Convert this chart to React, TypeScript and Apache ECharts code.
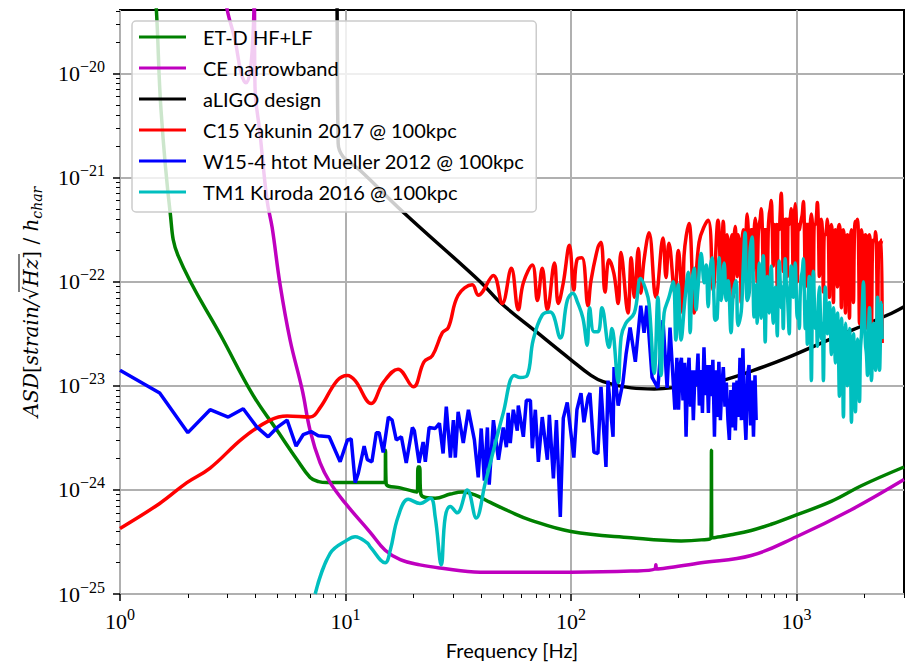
import React, { useEffect, useRef } from "react";
import * as echarts from "echarts";

// every trace is [frequency in Hz, log10(ASD)]; y is kept as the exponent because
// echarts rounds log ticks to 10 decimals, which would turn 1e-25 into 0
const etdTrace = [
  [1.4, -19.0], [1.45, -19.39], [1.52, -20.35], [1.67, -21.34], [1.81, -21.75], [2.87, -22.56], [3.89, -23.09],
  [4.98, -23.43], [6.1, -23.71], [6.97, -23.88], [7.6, -23.92], [8.3, -23.93], [10, -23.93], [13.5, -23.93],
  [15, -23.93], [15.05, -23.62], [15.15, -23.94], [17.5, -23.98], [20.8, -24.02], [21, -23.78], [21.3, -23.78],
  [21.6, -24.04], [25, -24.08], [29.2, -24.04], [33, -24.02], [37.7, -24.05], [43.9, -24.12], [53.8, -24.21],
  [66.1, -24.29], [100, -24.4], [185, -24.46], [308, -24.49], [378, -24.48], [418, -24.46], [420, -23.62],
  [421, -24.46], [513, -24.43], [630, -24.39], [773, -24.33], [1000, -24.24], [1427, -24.11], [1940, -23.96],
  [3000, -23.78],
];

const ceTrace = [
  [2.93, -19.2], [2.99, -19.39], [3.24, -19.68], [3.44, -19.99], [3.62, -20.09], [3.78, -19.97], [3.89, -19.63],
  [3.94, -19.3], [3.97, -20.13], [4.18, -20.58], [4.49, -21.22], [4.73, -21.48], [5.13, -22.03], [5.68, -22.56],
  [6.43, -23.04], [6.97, -23.43], [7.72, -23.74], [8.55, -23.93], [10, -24.13], [12.9, -24.41], [15, -24.58],
  [17.5, -24.67], [21.4, -24.72], [26.3, -24.75], [39.6, -24.79], [100, -24.79], [185, -24.78], [236, -24.76],
  [238, -24.72], [240, -24.76], [378, -24.7], [630, -24.63], [1000, -24.45], [1751, -24.19], [3000, -23.9],
];

const aligoTrace = [
  [9.15, -19.0], [9.18, -19.39], [9.28, -20.67], [9.77, -20.8], [11.6, -20.93], [18, -21.33], [39.6, -22.0],
  [48.6, -22.2], [71, -22.49], [100, -22.75], [122.7, -22.9], [139, -22.96], [185, -23.02], [234, -23.03],
  [278, -23.02], [464, -22.95], [649, -22.85], [913, -22.73], [1288, -22.59], [2538, -22.32], [3000, -22.24],
];

const yakuninTrace = [
  [1, -24.37], [1.5, -24.13], [1.98, -23.93], [2.51, -23.79], [3.52, -23.5], [4.63, -23.33], [5.51, -23.29],
  [6.97, -23.3], [7.72, -23.21], [9.18, -22.95], [10.2, -22.9], [11.04, -22.95], [13, -23.17], [14.7, -22.97],
  [17.1, -22.84], [20, -23.01], [22.3, -22.77], [24.3, -22.71], [26.9, -22.49], [28.6, -22.44], [31.6, -22.13],
  [36.5, -22.03], [38.8, -22.13], [45.3, -21.94], [49.6, -22.21], [54.4, -21.87], [58.4, -22.27], [61.5, -22.01],
  [67.4, -21.84], [71, -22.18], [74.6, -21.87], [78.6, -22.27], [84.5, -21.82], [87.9, -22.21], [92.5, -22.01],
  [98.4, -21.65], [103, -22.08], [106.3, -21.79], [111.9, -21.77], [119, -22.23], [122.7, -21.99], [131.7, -21.67],
  [135.9, -21.62], [141.6, -22.1], [147.5, -21.79], [155, -21.92], [162, -22.21], [166.6, -21.72], [179, -22.3],
  [185, -21.77], [191, -22.15], [199, -21.68], [204, -22.11], [211, -21.79], [222, -21.53], [238, -22.15],
  [256, -21.58], [264, -21.96], [272, -21.63], [289, -22.11], [299, -21.7], [314, -22.3], [317, -21.77],
  [334, -21.44], [352, -22.3], [370, -21.62], [406, -21.41], [427, -22.08], [449, -21.41],
  [464, -22.05], [469, -21.6], [474, -21.42], [478, -21.6], [483, -22.0], [488, -21.7], [493, -21.55], [498, -21.65],
  [503, -22.1], [508, -21.7], [513, -21.6], [518, -21.55], [524, -22.15], [529, -21.6], [535, -21.47], [540, -21.6],
  [546, -21.95], [551, -21.55], [557, -21.6], [563, -21.65], [569, -22.2], [575, -21.6], [581, -21.5], [587, -21.55],
  [593, -21.9], [599, -21.5], [605, -21.35], [611, -21.5], [618, -22.1], [624, -21.6], [630, -21.5], [636, -21.5],
  [643, -21.9], [650, -21.5], [657, -21.39], [663, -21.5], [670, -22.0], [677, -21.55], [684, -21.45], [691, -21.4],
  [698, -21.3], [705, -21.45], [713, -21.9], [720, -21.5], [727, -21.5], [734, -21.5], [742, -22.1], [750, -21.5],
  [758, -21.35], [765, -21.3], [773, -21.22], [781, -21.45], [789, -21.85], [797, -21.45], [806, -21.5], [814, -21.45],
  [822, -22.05], [830, -21.45], [839, -21.5], [847, -21.35], [856, -21.15], [865, -21.4], [874, -21.9], [883, -21.45],
  [892, -21.4], [901, -21.4], [911, -21.95], [920, -21.4], [929, -21.45], [938, -21.4], [948, -21.3], [958, -21.45],
  [968, -22.0], [978, -21.4], [988, -21.25], [998, -21.4], [1009, -22.0], [1019, -21.45], [1030, -21.5], [1040, -21.45],
  [1051, -21.4], [1062, -21.35], [1073, -21.23], [1084, -21.45], [1095, -22.05], [1106, -21.45], [1118, -21.45],
  [1129, -21.45], [1141, -22.1], [1153, -21.45], [1165, -21.35], [1177, -21.45], [1189, -22.0], [1201, -21.45],
  [1213, -21.45], [1225, -21.4], [1238, -21.24], [1251, -21.45], [1264, -21.95], [1277, -21.45], [1290, -21.4],
  [1303, -21.5], [1317, -22.1], [1330, -21.55], [1344, -21.55], [1358, -21.5], [1372, -21.4], [1386, -21.55],
  [1400, -22.15], [1414, -21.55], [1429, -21.45], [1444, -21.55], [1459, -22.2], [1474, -21.55], [1489, -21.5],
  [1504, -21.55], [1520, -22.05], [1535, -21.5], [1551, -21.45], [1567, -21.55], [1583, -22.25], [1600, -21.55],
  [1616, -21.5], [1633, -21.6], [1650, -22.3], [1667, -21.6], [1684, -21.55], [1701, -21.6], [1719, -22.35],
  [1736, -21.6], [1754, -21.5], [1772, -21.6], [1790, -22.2], [1808, -21.55], [1827, -21.42], [1846, -21.45],
  [1865, -21.4], [1884, -21.6], [1904, -22.4], [1923, -21.6], [1943, -21.5], [1963, -21.6], [1983, -22.3],
  [2003, -21.6], [2024, -21.55], [2045, -21.6], [2066, -22.45], [2087, -21.6], [2109, -21.55], [2131, -21.65],
  [2153, -22.4], [2175, -21.65], [2197, -21.6], [2220, -21.6], [2243, -21.52], [2266, -21.7], [2289, -22.5],
  [2313, -21.7], [2337, -21.62], [2361, -21.65], [2385, -21.6], [2400, -22.59],
];

const muellerTrace = [
  [1, -22.85], [1.5, -23.07], [2, -23.45], [2.51, -23.23], [3.02, -23.3], [3.52, -23.22], [4.06, -23.4],
  [4.54, -23.49], [4.98, -23.4], [5.51, -23.33], [6.04, -23.58], [6.49, -23.47], [7.04, -23.44], [7.57, -23.48],
  [8.47, -23.49], [9.47, -23.73], [10.2, -23.52], [10.6, -23.51], [11.04, -23.93], [11.4, -23.84], [12.1, -23.58],
  [12.5, -23.71], [13.1, -23.73], [13.7, -23.45], [14.1, -23.45], [14.7, -23.64], [15.5, -23.3], [16.1, -23.33],
  [16.8, -23.52], [17.7, -23.49], [18.6, -23.74], [19.8, -23.4], [20.2, -23.43], [21.2, -23.74], [22.1, -23.54],
  [22.6, -23.73], [23.5, -23.4], [25, -23.41], [26.1, -23.36], [27.1, -23.65], [28, -23.2], [29.2, -23.69],
  [30.1, -23.33], [30.7, -23.69], [31.6, -23.25], [33.3, -23.55], [35.1, -23.23], [37.3, -23.52], [38.8, -23.88],
  [40, -23.41], [41.3, -23.91], [42.6, -23.4], [43.4, -23.95], [45.3, -23.33], [47.7, -23.71], [50.1, -23.4],
  [51.7, -23.59], [52.7, -23.26], [53.8, -23.55], [55.5, -23.23], [57.8, -23.43], [58.4, -23.19], [61.5, -23.49],
  [63.4, -23.14], [66.1, -23.14], [67.4, -23.6], [69.5, -23.23], [71.7, -23.73], [74.6, -23.3], [78.6, -23.71],
  [80.2, -23.28], [83.6, -23.89], [86.2, -23.33], [89.7, -24.26], [92.5, -23.31], [96.3, -23.16], [103, -23.69],
  [106.3, -23.23], [110.8, -23.07], [114.2, -23.35], [119, -23.11], [121.4, -23.07], [126.5, -23.64], [131.7, -23.65],
  [135.9, -23.01], [143, -23.78], [146, -22.95], [153.7, -23.49], [155.3, -22.82], [162, -23.19], [170, -22.97],
  [175.5, -22.7], [183, -22.44], [193, -22.77], [204, -22.23], [211, -22.49],
  [217, -22.23], [229, -22.92], [243, -23.02], [256, -22.37], [267, -23.02], [275, -22.44], [289, -23.23],
  [295, -22.73], [300, -23.23], [305, -22.8], [309, -22.73], [314, -23.14], [319, -22.78], [324, -23.49],
  [329, -22.9], [334, -22.73], [339, -23.2], [344, -22.85], [349, -23.33], [355, -22.85], [360, -23.0],
  [366, -22.69], [371, -23.19], [377, -22.85], [383, -23.26], [389, -22.63], [395, -23.09], [401, -22.8],
  [407, -23.26], [413, -22.8], [420, -23.1], [426, -22.75], [433, -23.49], [439, -22.85], [446, -23.3],
  [453, -22.77], [460, -23.33], [467, -23.0], [474, -22.82], [482, -23.2], [489, -22.97], [497, -23.33],
  [504, -23.52], [512, -23.04], [520, -23.4], [528, -22.97], [536, -23.43], [545, -22.95], [553, -23.3],
  [562, -22.73], [570, -23.33], [579, -22.64], [588, -23.23], [597, -23.52], [607, -22.9], [616, -22.8],
  [626, -23.38], [635, -22.95], [645, -23.49], [655, -22.9], [663, -23.33],
];

const kurodaTrace = [
  [7.34, -25.0], [8.55, -24.61], [10.2, -24.48], [11.04, -24.45], [12.5, -24.51], [12.9, -24.55], [15, -24.7],
  [15.8, -24.58], [17.1, -24.26], [19, -24.09], [21.4, -24.13], [23.8, -24.08], [25, -24.26], [26.6, -24.72],
  [27.7, -24.26], [29.2, -24.16], [31.3, -24.22], [34.7, -24.0], [38, -24.27], [41.7, -23.93], [50.1, -23.26],
  [56.1, -22.9], [59.6, -22.92], [64, -22.9], [68, -22.56], [74.6, -22.32], [81, -22.29], [89.7, -22.54],
  [96.3, -22.18], [102, -22.11], [107, -22.2], [113, -22.35], [118, -22.61], [121, -22.25], [126.5, -22.48],
  [132, -22.48], [137.3, -22.25], [147.5, -22.63], [152, -22.45], [162, -22.97], [167, -22.53], [175, -22.4],
  [191, -22.3], [204, -21.97], [215, -22.08], [222, -22.21], [234, -22.88], [243, -22.15], [251, -22.9],
  [259, -22.3], [272, -22.15], [284, -22.0], [292, -22.56], [299, -22.03], [308, -22.56], [320, -22.18],
  [331, -21.91], [338, -22.49], [344, -22.03], [352, -21.87], [359, -22.27], [366, -22.06], [378, -21.73],
  [390, -22.01], [398, -21.84], [406, -22.24], [414, -21.89], [423, -21.77], [431, -22.18], [436, -22.37],
  [445, -22.35], [454, -21.77], [464, -22.18], [478, -21.82], [488, -22.18], [498, -21.99], [513, -22.49],
  [524, -22.13], [540, -21.99], [551, -22.42], [569, -22.29], [580, -21.89], [592, -21.53], [605, -22.18],
  [617, -22.11], [623, -21.7], [636, -21.57], [649, -22.34], [663, -22.03],
  [670, -22.4], [677, -22.05], [684, -21.82], [691, -22.1], [698, -22.35], [705, -22.0], [713, -21.75], [720, -22.1],
  [727, -22.58], [734, -22.2], [742, -21.95], [750, -22.1], [758, -22.3], [765, -22.0], [773, -21.85], [781, -22.1],
  [789, -22.4], [797, -22.15], [806, -22.05], [814, -22.15], [822, -22.52], [830, -22.1], [839, -21.8], [847, -22.0],
  [856, -22.25], [865, -22.05], [874, -22.45], [883, -22.05], [892, -21.78], [901, -22.0], [911, -22.1], [920, -22.3],
  [929, -22.5], [938, -22.1], [948, -21.85], [958, -22.05], [968, -22.15], [978, -22.0], [988, -21.82], [998, -22.1],
  [1009, -22.35], [1019, -22.2], [1030, -22.45], [1040, -22.1], [1051, -21.95], [1062, -21.9], [1073, -21.78],
  [1084, -22.1], [1095, -22.45], [1106, -22.2], [1118, -22.6], [1129, -22.15], [1141, -21.95], [1153, -22.2],
  [1165, -22.95], [1177, -22.2], [1189, -21.9], [1201, -22.2], [1213, -22.45], [1225, -22.3], [1238, -22.62],
  [1251, -22.2], [1264, -22.05], [1277, -22.3], [1290, -22.55], [1303, -22.4], [1317, -22.95], [1330, -22.35],
  [1344, -22.05], [1358, -22.3], [1372, -22.5], [1386, -22.25], [1400, -22.2], [1414, -22.4], [1429, -22.7],
  [1444, -22.35], [1459, -22.25], [1474, -22.45], [1489, -22.78], [1504, -22.4], [1520, -22.3], [1535, -22.6],
  [1551, -23.1], [1567, -22.5], [1583, -22.35], [1600, -22.7], [1616, -23.3], [1633, -22.6], [1650, -22.4],
  [1667, -22.65], [1684, -23.0], [1701, -22.6], [1719, -22.45], [1736, -22.7], [1754, -23.35], [1772, -22.65],
  [1790, -22.5], [1808, -22.75], [1827, -23.25], [1846, -22.7], [1865, -22.55], [1884, -22.8], [1904, -23.15],
  [1923, -22.65], [1943, -22.5], [1963, -22.2], [1983, -22.0], [2003, -22.3], [2024, -22.6], [2045, -22.7],
  [2066, -22.9], [2087, -22.5], [2109, -22.25], [2131, -22.6], [2153, -22.95], [2175, -22.6], [2197, -22.4],
  [2220, -22.6], [2243, -22.85], [2266, -22.5], [2289, -22.15], [2313, -22.5], [2337, -22.85], [2361, -22.5],
  [2385, -22.2], [2400, -22.55],
];

const seriesNames = [
  "ET-D HF+LF",
  "CE narrowband",
  "aLIGO design",
  "C15 Yakunin 2017 @ 100kpc",
  "W15-4 htot Mueller 2012 @ 100kpc",
  "TM1 Kuroda 2016 @ 100kpc",
];
const seriesColors = ["#008000", "#bf00bf", "#000000", "#ff0000", "#0000ff", "#00bfbf"];
const seriesTraces = [etdTrace, ceTrace, aligoTrace, yakuninTrace, muellerTrace, kurodaTrace];
// the W15-4 trace is a plain polyline in the reference, the others are round
const seriesSmooth = [0.4, 0.4, 0.4, 0.4, 0, 0.4];

const xMajor = [1, 10, 100, 1000];
const xMinor = [2, 3, 4, 5, 6, 7, 8, 9, 20, 30, 40, 50, 60, 70, 80, 90, 200, 300, 400, 500, 600, 700, 800, 900, 2000, 3000];
const yMajor = [-25, -24, -23, -22, -21, -20];
const yMinor: number[] = [];
yMajor.forEach((e) => {
  [2, 3, 4, 5, 6, 7, 8, 9].forEach((k) => {
    if (e + Math.log10(k) < -19.39) yMinor.push(e + Math.log10(k));
  });
});

const SERIF = "'Liberation Serif', serif";
const MATH = "'DejaVu Serif', serif";
const SANS = "Lato, 'Open Sans', sans-serif";

const powerRich = {
  b: { fontFamily: SERIF, fontSize: 22, color: "#000", lineHeight: 30 },
  s: { fontFamily: SERIF, fontSize: 16, color: "#000", lineHeight: 18, verticalAlign: "top" as const },
};

const App = () => {
  const chartRef = useRef<HTMLDivElement>(null);

  useEffect(() => {
    if (!chartRef.current) return;
    const chart = echarts.init(chartRef.current, null, { renderer: "svg" });

    const minorAxis = {
      show: true,
      axisLine: { show: false },
      axisLabel: { show: false },
      splitLine: { show: false },
    };

    const option: echarts.EChartsCoreOption = {
      animation: false,
      backgroundColor: "#fff",
      grid: { left: 120, right: 10, top: 10, bottom: 76, show: true, borderColor: "#000", borderWidth: 2 },
      legend: {
        left: 132,
        top: 21,
        orient: "vertical",
        data: seriesNames,
        icon: "rect",
        itemWidth: 47,
        itemHeight: 3,
        itemGap: 11,
        padding: [6, 12, 10, 7],
        backgroundColor: "rgba(255,255,255,0.8)",
        borderColor: "#cccccc",
        borderWidth: 1.5,
        borderRadius: 4,
        textStyle: { fontFamily: SANS, fontSize: 20, lineHeight: 20, color: "#000", padding: [0, 0, 0, 12] },
      },
      xAxis: [
        {
          type: "log",
          logBase: 10,
          min: 1,
          max: 3000,
          position: "bottom",
          name: "Frequency [Hz]",
          nameLocation: "middle",
          nameGap: 46,
          nameTextStyle: { fontFamily: SANS, fontSize: 20, color: "#000" },
          axisLine: { show: false },
          axisTick: { show: true, length: 7, customValues: xMajor, lineStyle: { color: "#000", width: 1.5 } },
          axisLabel: {
            customValues: xMajor,
            margin: 12,
            formatter: (v: number) => `{b|10}{s|${Math.round(Math.log10(v))}}`,
            rich: powerRich,
          },
          splitLine: { show: true, lineStyle: { color: "#b0b0b0", width: 2 } },
        },
        {
          ...minorAxis,
          type: "log",
          logBase: 10,
          min: 1,
          max: 3000,
          position: "bottom",
          axisTick: { show: true, length: 4, customValues: xMinor, lineStyle: { color: "#000", width: 1 } },
        },
      ],
      yAxis: [
        {
          type: "value",
          min: -25,
          max: -19.39,
          interval: 1,
          position: "left",
          name: "{i|ASD}{r|[}{i|strain/}{r|√}{i|Hz}{r|] / }{i|h}{u|char}",
          nameLocation: "middle",
          nameRotate: 90,
          nameGap: 76,
          nameTextStyle: {
            rich: {
              i: { fontFamily: MATH, fontStyle: "italic", fontSize: 20, color: "#000", lineHeight: 26 },
              r: { fontFamily: MATH, fontSize: 20, color: "#000", lineHeight: 26 },
              u: { fontFamily: MATH, fontStyle: "italic", fontSize: 14, color: "#000", lineHeight: 16, verticalAlign: "bottom" },
            },
          },
          axisLine: { show: false },
          axisTick: { show: true, length: 7, customValues: yMajor, lineStyle: { color: "#000", width: 1.5 } },
          axisLabel: {
            customValues: yMajor,
            margin: 15,
            formatter: (v: number) => `{b|10}{s|−${Math.abs(Math.round(v))}}`,
            rich: powerRich,
          },
          splitLine: { show: true, lineStyle: { color: "#b0b0b0", width: 2 } },
        },
        {
          ...minorAxis,
          type: "value",
          min: -25,
          max: -19.39,
          interval: 1,
          position: "left",
          axisTick: { show: true, length: 4, customValues: yMinor, lineStyle: { color: "#000", width: 1 } },
        },
      ],
      graphic: [
        // the bar over Hz in the y label
        { type: "line", shape: { x1: 19, y1: 292, x2: 19, y2: 254 }, style: { stroke: "#000", lineWidth: 1 } },
      ],
      series: seriesNames.map((name, i) => ({
        name,
        type: "line",
        xAxisIndex: 0,
        yAxisIndex: 0,
        data: seriesTraces[i],
        symbol: "none",
        showSymbol: false,
        smooth: seriesSmooth[i] || false,
        clip: true,
        silent: true,
        lineStyle: { color: seriesColors[i], width: 3.5 },
        itemStyle: { color: seriesColors[i] },
      })),
    };

    chart.setOption(option);

    return () => {
      chart.dispose();
    };
  }, []);

  return <div ref={chartRef} style={{ position: "absolute", left: 0, top: 0, width: 914, height: 670 }} />;
};

export default App;
